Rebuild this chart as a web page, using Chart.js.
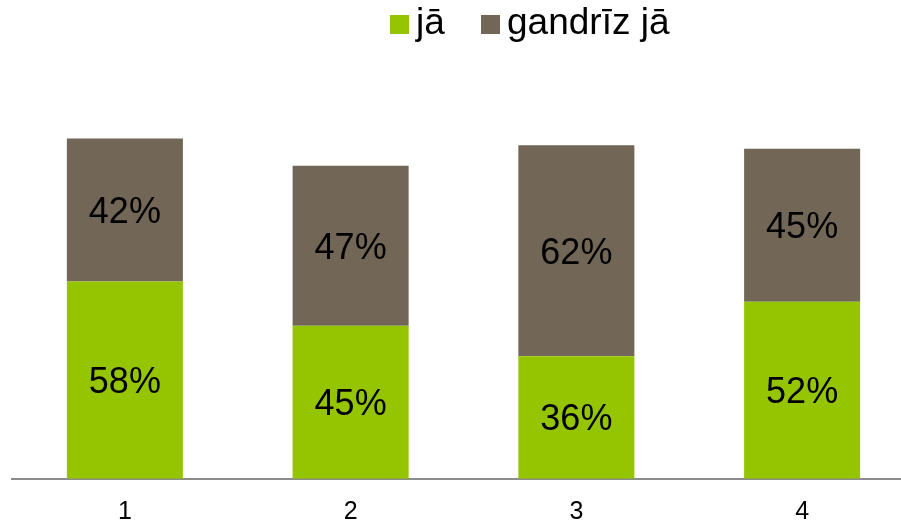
<!DOCTYPE html>
<html>
<head>
<meta charset="utf-8">
<script src="https://cdn.jsdelivr.net/npm/chart.js@4"></script>
<style>
    html, body { margin: 0; padding: 0; overflow: hidden; background: #fff; }
    #wrap { position: relative; width: 915px; height: 559px; }
    #legend { position: absolute; top: 0; left: 0; font-family: "Liberation Sans", Arial, sans-serif; font-size: 37px; color: #000; }
    .item { position: absolute; top: 1px; white-space: nowrap; line-height: 42px; }
    .box { position: absolute; width: 19px; height: 19px; }
</style>
</head>
<body>
<div id="wrap">
    <canvas id="chart" width="915" height="559"></canvas>
    <div id="legend"></div>
</div>
<script>
// Chart data
const categories = ['1', '2', '3', '4'];
const seriesNames = ['jā', 'gandrīz jā'];
const yesValues = [58, 45, 36, 52];
const almostValues = [42, 47, 62, 45];
const seriesColors = ['#95c500', '#726657'];

// Build the legend in HTML (tight box/text spacing like the original)
function buildLegend() {
    const legend = document.getElementById('legend');
    const boxX = [390, 481];
    seriesNames.forEach((name, i) => {
        const box = document.createElement('div');
        box.className = 'box';
        box.style.left = boxX[i] + 'px';
        box.style.top = '15px';
        box.style.background = seriesColors[i];
        legend.appendChild(box);

        const text = document.createElement('div');
        text.className = 'item';
        text.style.left = (boxX[i] + 26) + 'px';
        text.textContent = name;
        legend.appendChild(text);
    });
}

// Draw the percentage labels in the middle of each bar segment
const barLabels = {
    id: 'barLabels',
    afterDatasetsDraw(chart) {
        const ctx = chart.ctx;
        ctx.save();
        ctx.font = '36px "Liberation Sans", Arial, sans-serif';
        ctx.fillStyle = '#000';
        ctx.textAlign = 'center';
        ctx.textBaseline = 'middle';
        chart.data.datasets.forEach((ds, di) => {
            chart.getDatasetMeta(di).data.forEach((bar, i) => {
                const mid = (bar.y + bar.base) / 2;
                ctx.fillText(ds.data[i] + '%', bar.x, mid + 3);
            });
        });
        ctx.restore();
    }
};

buildLegend();

new Chart(document.getElementById('chart'), {
    type: 'bar',
    data: {
        labels: categories,
        datasets: [
            { label: seriesNames[0], data: yesValues, backgroundColor: seriesColors[0] },
            { label: seriesNames[1], data: almostValues, backgroundColor: seriesColors[1] }
        ]
    },
    options: {
        responsive: false,
        animation: false,
        layout: { padding: { top: 70.5, left: 12, right: 0, bottom: 22.2 } },
        datasets: { bar: { categoryPercentage: 1, barPercentage: 0.514 } },
        scales: {
            x: {
                stacked: true,
                grid: { display: false },
                border: { display: true, color: '#8c8c8c', width: 2 },
                ticks: { color: '#000', padding: 10, font: { family: '"Liberation Sans", Arial, sans-serif', size: 25 } }
            },
            y: {
                stacked: true,
                display: false,
                min: 0,
                max: 120
            }
        },
        plugins: {
            legend: { display: false },
            tooltip: { enabled: false }
        }
    },
    plugins: [barLabels]
});
</script>
</body>
</html>
